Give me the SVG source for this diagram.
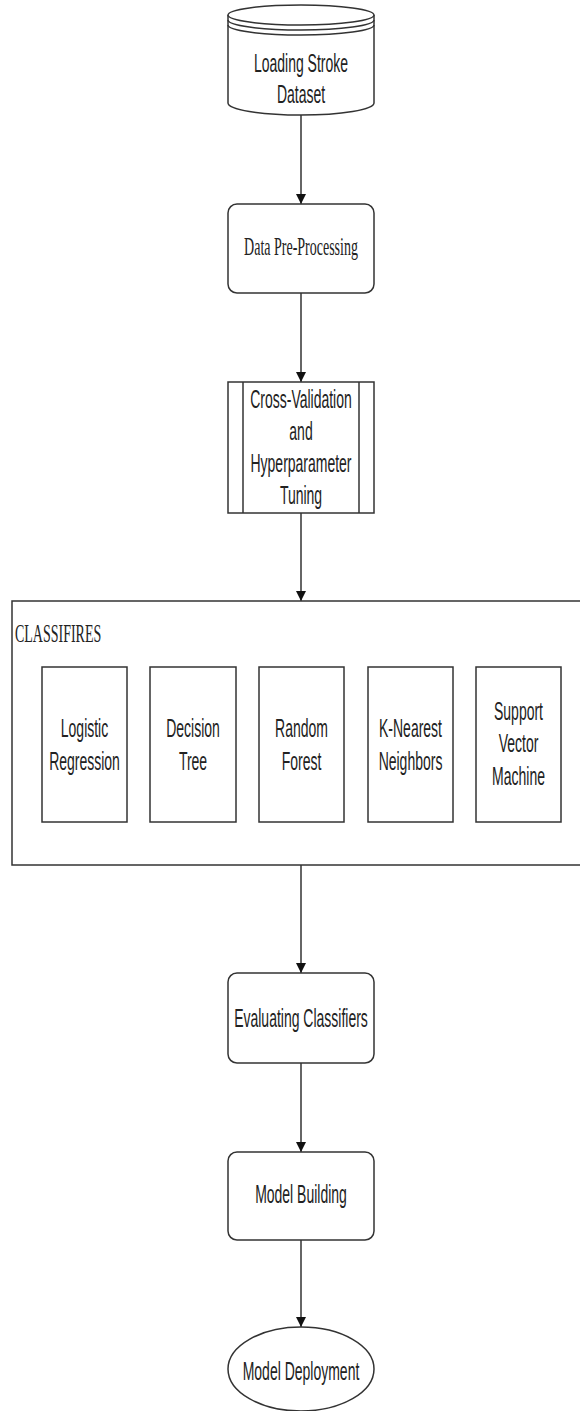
<svg xmlns="http://www.w3.org/2000/svg" width="580" height="1411" viewBox="0 0 580 1411">
<style>
.sh{fill:#fff;stroke:#333;stroke-width:1.5}
.ln{fill:none;stroke:#333;stroke-width:1.5}
.t{font-family:"Liberation Sans",Arial,sans-serif;font-size:14px;fill:#222;text-anchor:middle}
.s{font-family:"Liberation Serif","Times New Roman",serif;font-size:14px;fill:#222}
.c{text-anchor:middle}
</style>
<defs>
<marker id="ah" markerUnits="userSpaceOnUse" markerWidth="10" markerHeight="12" refX="10" refY="5" orient="auto">
<path d="M0,0 L10,5 L0,10 Z" fill="#111"/>
</marker>
</defs>
<rect width="580" height="1411" fill="#fff"/>
<g id="connectors">
<line class="ln" x1="301" y1="115" x2="301" y2="204" marker-end="url(#ah)"/>
<line class="ln" x1="301" y1="293" x2="301" y2="382" marker-end="url(#ah)"/>
<line class="ln" x1="301" y1="513" x2="301" y2="601" marker-end="url(#ah)"/>
<line class="ln" x1="301" y1="865" x2="301" y2="973" marker-end="url(#ah)"/>
<line class="ln" x1="301" y1="1063" x2="301" y2="1152" marker-end="url(#ah)"/>
<line class="ln" x1="301" y1="1240" x2="301" y2="1327" marker-end="url(#ah)"/>
</g>
<g id="dataset">
<path class="sh" d="M228,15 L228,103 A73,12 0 0 0 374,103 L374,15"/>
<ellipse class="sh" cx="301" cy="15" rx="73" ry="10"/>
<path class="ln" d="M228,20 A73,10 0 0 0 374,20"/>
<path class="ln" d="M228,25 A73,10 0 0 0 374,25"/>
<text class="t" transform="translate(301,72) scale(1,1.85)">Loading Stroke</text>
<text class="t" transform="translate(301,103) scale(1,1.85)">Dataset</text>
</g>
<g id="preprocessing">
<rect class="sh" x="228" y="204" width="146" height="89" rx="9"/>
<text class="s c" transform="translate(301,255) scale(1,1.85)">Data Pre-Processing</text>
</g>
<g id="crossval">
<rect class="sh" x="228" y="382" width="146" height="131"/>
<line class="ln" x1="243" y1="382" x2="243" y2="513"/>
<line class="ln" x1="359" y1="382" x2="359" y2="513"/>
<text class="t" transform="translate(301,408) scale(1,1.85)">Cross-Validation</text>
<text class="t" transform="translate(301,440) scale(1,1.85)">and</text>
<text class="t" transform="translate(301,472) scale(1,1.85)">Hyperparameter</text>
<text class="t" transform="translate(301,504) scale(1,1.85)">Tuning</text>
</g>
<g id="classifiers">
<rect class="sh" x="12" y="601" width="575" height="264"/>
<text class="s" transform="translate(15,642) scale(1,1.85)">CLASSIFIRES</text>
</g>
<g id="logistic">
<rect class="sh" x="42" y="667" width="85" height="155"/>
<text class="t" transform="translate(84.5,737) scale(1,1.85)">Logistic</text>
<text class="t" transform="translate(84.5,770) scale(1,1.85)">Regression</text>
</g>
<g id="decisiontree">
<rect class="sh" x="150" y="667" width="86" height="155"/>
<text class="t" transform="translate(193,737) scale(1,1.85)">Decision</text>
<text class="t" transform="translate(193,770) scale(1,1.85)">Tree</text>
</g>
<g id="randomforest">
<rect class="sh" x="259" y="667" width="85" height="155"/>
<text class="t" transform="translate(301.5,737) scale(1,1.85)">Random</text>
<text class="t" transform="translate(301.5,770) scale(1,1.85)">Forest</text>
</g>
<g id="knn">
<rect class="sh" x="368" y="667" width="85" height="155"/>
<text class="t" transform="translate(410.5,737) scale(1,1.85)">K-Nearest</text>
<text class="t" transform="translate(410.5,770) scale(1,1.85)">Neighbors</text>
</g>
<g id="svm">
<rect class="sh" x="476" y="667" width="85" height="155"/>
<text class="t" transform="translate(518.5,720) scale(1,1.85)">Support</text>
<text class="t" transform="translate(518.5,752) scale(1,1.85)">Vector</text>
<text class="t" transform="translate(518.5,785) scale(1,1.85)">Machine</text>
</g>
<g id="evaluating">
<rect class="sh" x="228" y="973" width="146" height="90" rx="9"/>
<text class="t" transform="translate(301,1027) scale(1,1.85)">Evaluating Classifiers</text>
</g>
<g id="building">
<rect class="sh" x="228" y="1152" width="146" height="88" rx="9"/>
<text class="t" transform="translate(301,1203) scale(1,1.85)">Model Building</text>
</g>
<g id="deployment">
<ellipse class="sh" cx="301" cy="1369" rx="73" ry="42"/>
<text class="t" transform="translate(301,1380) scale(1,1.85)">Model Deployment</text>
</g>
</svg>
